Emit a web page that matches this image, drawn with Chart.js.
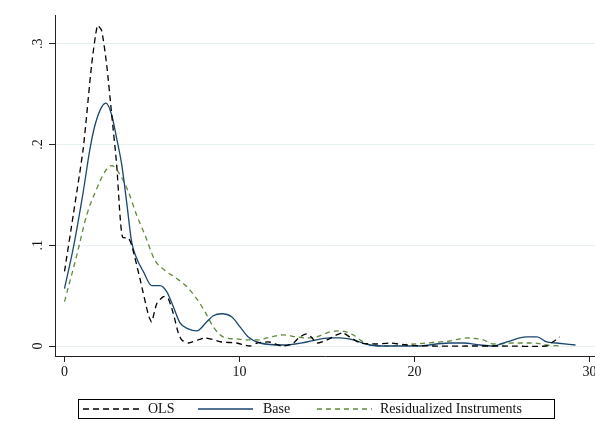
<!DOCTYPE html>
<html>
<head>
<meta charset="utf-8">
<script src="https://cdn.jsdelivr.net/npm/chart.js@4"></script>
<style>
  body { margin: 0; background: #fff; }
  #wrap { position: relative; width: 595px; height: 421px; }
  #legend { position: absolute; left: 78px; top: 399px; width: 477px; height: 20px;
            box-sizing: border-box; border: 1px solid #000; }
  .lg { position: absolute; top: 402px; font: 14px 'Liberation Serif', serif; line-height: 14px; color: #111; white-space: nowrap; }
  .sm { position: absolute; top: 405px; }
</style>
</head>
<body>
<div id="wrap">
  <canvas id="myChart" width="595" height="421"></canvas>
  <div id="legend"></div>
  <svg class="sm" style="left:83px" width="56" height="8"><line x1="0" y1="4" x2="56" y2="4" stroke="#000" stroke-width="1.3" stroke-dasharray="6,4"/></svg>
  <span class="lg" style="left:148px">OLS</span>
  <svg class="sm" style="left:198px" width="55" height="8"><line x1="0" y1="4" x2="55" y2="4" stroke="#1a476f" stroke-width="1.3"/></svg>
  <span class="lg" style="left:263px">Base</span>
  <svg class="sm" style="left:317px" width="55" height="8"><line x1="0" y1="4" x2="55" y2="4" stroke="#5f8a3a" stroke-width="1.3" stroke-dasharray="5,4"/></svg>
  <span class="lg" style="left:380px">Residualized Instruments</span>
</div>
<script>
'use strict';

let seriesNames = ['OLS', 'Base', 'Residualized Instruments'];

let olsX = [0, 0.5, 1.07, 1.55, 1.88, 2.12, 2.41, 2.7, 2.98, 3.17, 3.32, 3.65, 3.84, 4.31, 4.79, 4.98, 5.27, 5.65, 5.93, 6.22, 6.5, 6.7, 7.07, 8.03, 8.98, 9.84, 10.6, 11.0, 11.7, 12.4, 13.0, 13.45, 13.84, 14.1, 14.4, 15.0, 15.55, 15.9, 16.3, 16.9, 17.8, 18.6, 19.55, 21, 23, 25, 27.55, 27.9, 28.3];
let olsY = [0.074, 0.130, 0.196, 0.279, 0.318, 0.313, 0.279, 0.229, 0.180, 0.130, 0.108, 0.107, 0.100, 0.067, 0.031, 0.024, 0.042, 0.049, 0.047, 0.032, 0.013, 0.006, 0.003, 0.008, 0.004, 0.003, 0.000, 0.003, 0.004, 0.000, 0.002, 0.009, 0.012, 0.009, 0.003, 0.006, 0.011, 0.013, 0.009, 0.003, 0.002, 0.003, 0.001, 0.000, 0.000, 0.000, 0.000, 0.004, 0.009];

let baseX = [0, 0.5, 1.07, 1.46, 1.74, 2.12, 2.37, 2.7, 2.98, 3.27, 3.55, 3.84, 4.12, 4.5, 4.98, 5.46, 5.84, 6.22, 6.6, 7.07, 7.55, 8.13, 8.5, 8.98, 9.55, 10.03, 10.5, 11.17, 12.5, 13.84, 15.17, 15.74, 16.5, 17.46, 18.5, 20.1, 22.0, 22.8, 23.74, 24.5, 25.27, 26.4, 27.0, 27.55, 28.1, 29.2];
let baseY = [0.057, 0.097, 0.153, 0.196, 0.219, 0.237, 0.241, 0.229, 0.206, 0.180, 0.143, 0.103, 0.087, 0.074, 0.060, 0.060, 0.054, 0.039, 0.023, 0.017, 0.015, 0.024, 0.030, 0.032, 0.029, 0.019, 0.009, 0.003, 0.001, 0.004, 0.008, 0.008, 0.006, 0.001, 0.000, 0.000, 0.003, 0.003, 0.001, 0.000, 0.004, 0.009, 0.009, 0.004, 0.003, 0.001];

let resX = [0, 0.7, 1.27, 1.84, 2.31, 2.7, 3.17, 3.65, 4.12, 4.6, 5.17, 5.74, 6.41, 6.98, 7.55, 8.03, 8.5, 9.07, 9.84, 10.6, 11.17, 11.55, 12.5, 13.27, 13.84, 14.4, 15.17, 15.74, 16.5, 16.9, 17.46, 18.2, 19.17, 20.7, 22.0, 22.98, 23.93, 24.5, 25.65, 26.8, 27.55, 28.3];
let resY = [0.044, 0.090, 0.130, 0.156, 0.173, 0.179, 0.170, 0.153, 0.130, 0.110, 0.085, 0.075, 0.067, 0.059, 0.047, 0.034, 0.019, 0.009, 0.007, 0.006, 0.006, 0.008, 0.011, 0.009, 0.008, 0.009, 0.014, 0.015, 0.011, 0.006, 0.001, 0.000, 0.001, 0.003, 0.005, 0.008, 0.006, 0.002, 0.003, 0.003, 0.001, 0.000];

let yTickVals = [0, 0.1, 0.2, 0.3];
let yTickLabels = ['0', '.1', '.2', '.3'];

function pts(xs, ys) {
    let out = [];
    for (let i = 0; i < xs.length; i++) {
        out.push({ x: xs[i], y: ys[i] });
    }
    return out;
}

// y labels are turned on their side like Stata does
let yLabelPlugin = {
    id: 'yLabels',
    afterDraw(chart) {
        let ctx = chart.ctx;
        let sc = chart.scales.y;
        ctx.save();
        ctx.fillStyle = '#111';
        ctx.font = '14px "Liberation Serif", serif';
        ctx.textAlign = 'center';
        ctx.textBaseline = 'alphabetic';
        for (let i = 0; i < yTickVals.length; i++) {
            let y = sc.getPixelForValue(yTickVals[i]);
            ctx.save();
            ctx.translate(42, y);
            ctx.rotate(-Math.PI / 2);
            ctx.fillText(yTickLabels[i], 0, 0);
            ctx.restore();
        }
        ctx.restore();
    }
};

let ctx = document.getElementById('myChart').getContext('2d');

let myChart = new Chart(ctx, {
    type: 'line',
    data: {
        datasets: [{
            label: seriesNames[0],
            data: pts(olsX, olsY),
            borderColor: '#000000',
            borderWidth: 1.3,
            borderDash: [6, 4],
            cubicInterpolationMode: 'default',
            tension: 0.2
        }, {
            label: seriesNames[1],
            data: pts(baseX, baseY),
            borderColor: '#1a476f',
            borderWidth: 1.3
        }, {
            label: seriesNames[2],
            data: pts(resX, resY),
            borderColor: '#5f8a3a',
            borderWidth: 1.3,
            borderDash: [5, 4]
        }]
    },
    options: {
        responsive: false,
        animation: false,
        layout: { padding: { left: 0, right: 0, top: 15, bottom: 0 } },
        elements: {
            point: { radius: 0 },
            line: { cubicInterpolationMode: 'monotone', fill: false }
        },
        plugins: {
            legend: { display: false },
            tooltip: { enabled: false }
        },
        scales: {
            x: {
                type: 'linear',
                min: -0.543,
                max: 30.314,
                border: { color: '#222', width: 1 },
                grid: { drawOnChartArea: false, tickLength: 6, tickColor: '#222' },
                ticks: {
                    stepSize: 10,
                    includeBounds: false,
                    maxRotation: 0,
                    padding: 2,
                    color: '#111',
                    font: { family: 'Liberation Serif', size: 14 }
                },
                afterFit(scale) {
                    scale.height = 65;
                    scale.paddingLeft = 0;
                    scale.paddingRight = 0;
                }
            },
            y: {
                min: -0.0099,
                max: 0.3284,
                border: { color: '#222', width: 1 },
                grid: { color: '#e6eff1', tickLength: 6, tickColor: '#222' },
                ticks: {
                    stepSize: 0.1,
                    includeBounds: false,
                    display: false
                },
                afterFit(scale) {
                    scale.width = 55;
                }
            }
        }
    },
    plugins: [yLabelPlugin]
});
</script>
</body>
</html>
